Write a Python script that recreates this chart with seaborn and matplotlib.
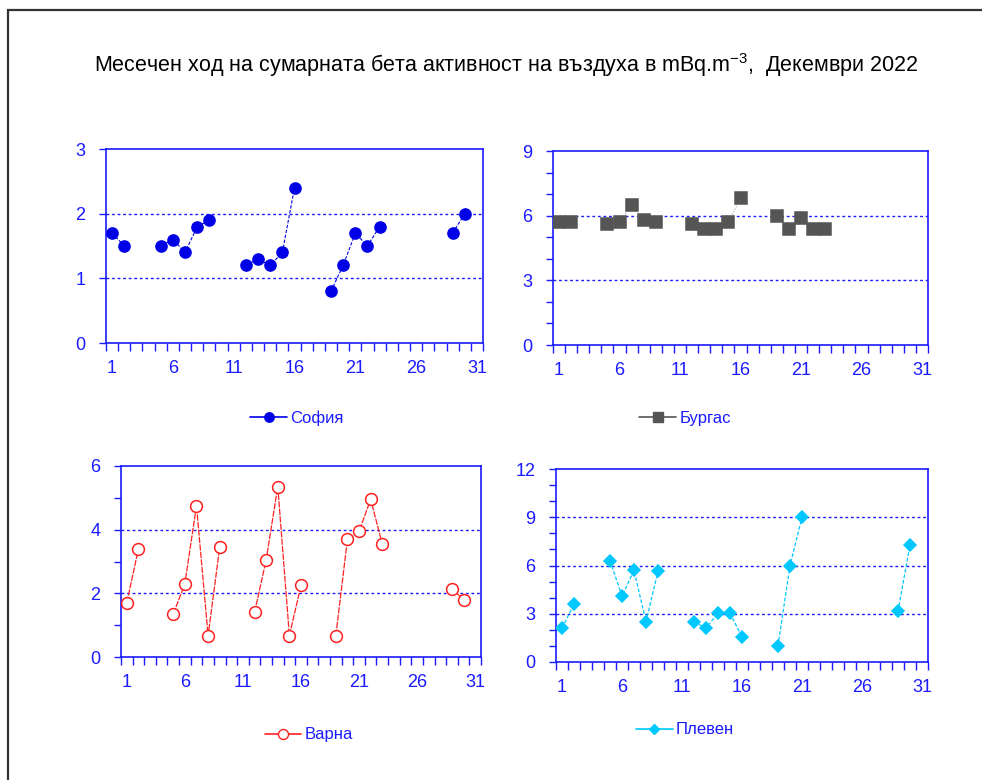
import numpy as np
import pandas as pd
import matplotlib
matplotlib.use("Agg")
import matplotlib.pyplot as plt
from matplotlib.lines import Line2D
from matplotlib.patches import Rectangle
import seaborn as sns

nan = np.nan
days = list(range(1, 32))
sofia = [1.7, 1.5, nan, nan, 1.5, 1.6, 1.4, 1.8, 1.9, nan, nan, 1.2, 1.3, 1.2, 1.4, 2.4,
         nan, nan, 0.8, 1.2, 1.7, 1.5, 1.8, nan, nan, nan, nan, nan, 1.7, 2.0, nan]
burgas = [5.7, 5.7, nan, nan, 5.6, 5.7, 6.5, 5.8, 5.7, nan, nan, 5.6, 5.4, 5.4, 5.7, 6.8,
          nan, nan, 6.0, 5.4, 5.9, 5.4, 5.4, nan, nan, nan, nan, nan, nan, nan, nan]
varna = [1.7, 3.4, nan, nan, 1.35, 2.3, 4.75, 0.67, 3.45, nan, nan, 1.4, 3.05, 5.35, 0.67, 2.25,
         nan, nan, 0.67, 3.7, 3.95, 4.95, 3.55, nan, nan, nan, nan, nan, 2.15, 1.8, nan]
pleven = [2.1, 3.6, nan, nan, 6.3, 4.1, 5.7, 2.5, 5.65, nan, nan, 2.5, 2.1, 3.05, 3.05, 1.55,
          nan, nan, 1.0, 6.0, 9.0, nan, nan, nan, nan, nan, nan, nan, 3.15, 7.3, nan]

x_tick_labels = [1, 6, 11, 16, 21, 26, 31]
title = "Месечен ход на сумарната бета активност на въздуха в mBq.m$^{-3}$,  Декември 2022"

sns.set_style("white")
plt.rcParams["font.family"] = ["Liberation Sans", "DejaVu Sans"]
plt.rcParams["mathtext.fontset"] = "custom"
plt.rcParams["mathtext.rm"] = "Liberation Sans"
plt.rcParams["mathtext.it"] = "Liberation Sans:italic"

BLUE = "#1a1aff"

fig = plt.figure(figsize=(9.82, 7.8), dpi=100)
fig.patch.set_facecolor("white")

# outer frame (top and left visible)
fig.patches.append(Rectangle((8 / 982, -0.2), 1.2, 1.2 - 10 / 780,
                             transform=fig.transFigure, fill=False,
                             edgecolor="#333333", linewidth=1.6))

fig.text(506 / 982, 1 - 65 / 780, title, ha="center", va="center",
         fontsize=15.5, color="black")

panels = [
    dict(name="София", vals=sofia, pos=[106, 149, 483, 343], ymax=3, major=1, minor=None,
         grid=[1, 2], color="#0000e6", marker="o", mfc="#0000e6", mec="#0000e6", ms=8,
         lcolor="#0000e6", ls=(0, (3, 1.5)), lw=0.8, leg=(297, 418)),
    dict(name="Бургас", vals=burgas, pos=[553, 151, 928, 345], ymax=9, major=3, minor=1,
         grid=[3, 6], color="#555555", marker="s", mfc="#555555", mec="#555555", ms=8.5,
         lcolor="#aaaaaa", ls=(0, (1, 1.5)), lw=0.8, leg=(685, 418)),
    dict(name="Варна", vals=varna, pos=[121, 466, 481, 657], ymax=6, major=2, minor=1,
         grid=[2, 4], color="#ff2020", marker="o", mfc="white", mec="#ff2020", ms=8.5,
         lcolor="#ff2020", ls=(0, (5, 1)), lw=0.9, leg=(309, 735)),
    dict(name="Плевен", vals=pleven, pos=[556, 469, 928, 662], ymax=12, major=3, minor=1,
         grid=[3, 6, 9], color="#00c8ff", marker="D", mfc="#00c8ff", mec="#00c8ff", ms=6.5,
         lcolor="#00c8ff", ls=(0, (3, 1.5)), lw=0.9, leg=(685, 730)),
]

W, H = 982, 780
for p in panels:
    l, t, r, b = p["pos"]
    ax = fig.add_axes([l / W, 1 - b / H, (r - l) / W, (b - t) / H])
    ax.set_facecolor("white")
    vals = np.array(p["vals"], dtype=float)
    seg = np.cumsum(np.isnan(vals))
    df = pd.DataFrame({"day": days, "value": vals, "seg": seg}).dropna()
    sns.lineplot(data=df, x="day", y="value", units="seg", estimator=None, ax=ax,
                 color=p["lcolor"], linestyle=p["ls"], linewidth=p["lw"], legend=False)
    ax.plot(df["day"], df["value"], linestyle="none", marker=p["marker"],
            markersize=p["ms"], markerfacecolor=p["mfc"], markeredgecolor=p["mec"],
            markeredgewidth=1.1, zorder=5)
    for g in p["grid"]:
        ax.axhline(g, color="#1a1aff", linestyle=(0, (2, 2)), linewidth=1.0, zorder=1)
    ax.set_xlim(0.5, 31.5)
    ax.set_ylim(0, p["ymax"])
    ax.set_xticks(x_tick_labels)
    ax.set_xticklabels([str(v) for v in x_tick_labels])
    ax.set_xticks(np.arange(0.5, 32.0, 1.0), minor=True)
    ax.set_yticks(np.arange(0, p["ymax"] + 0.01, p["major"]))
    if p["minor"]:
        ax.set_yticks(np.arange(0, p["ymax"] + 0.01, p["minor"]), minor=True)
    ax.tick_params(axis="x", which="major", bottom=True, length=0, pad=12,
                   labelsize=13, labelcolor=BLUE)
    ax.tick_params(axis="x", which="minor", bottom=True, length=6, width=1,
                   color=BLUE, direction="out")
    ax.tick_params(axis="y", which="major", left=True, length=5, width=1, color=BLUE,
                   direction="out", pad=10, labelsize=13, labelcolor=BLUE)
    ax.tick_params(axis="y", which="minor", left=True, length=5, width=1, color=BLUE,
                   direction="out")
    ax.set_xlabel("")
    ax.set_ylabel("")
    for s in ax.spines.values():
        s.set_color(BLUE)
        s.set_linewidth(1.2)
        s.set_visible(True)
    handle = Line2D([0], [0], color=p["lcolor"] if p["name"] != "Бургас" else "#555555",
                    linewidth=1.2, marker=p["marker"], markersize=p["ms"] * 0.85,
                    markerfacecolor=p["mfc"], markeredgecolor=p["mec"])
    lx, ly = p["leg"]
    fig.legend(handles=[handle], labels=[p["name"]], loc="center",
               bbox_to_anchor=(lx / W, 1 - ly / H), bbox_transform=fig.transFigure,
               frameon=False, fontsize=12, labelcolor=BLUE, handlelength=2.2,
               handletextpad=0.2, borderpad=0)

fig.savefig("out.png", dpi=100, facecolor="white")
